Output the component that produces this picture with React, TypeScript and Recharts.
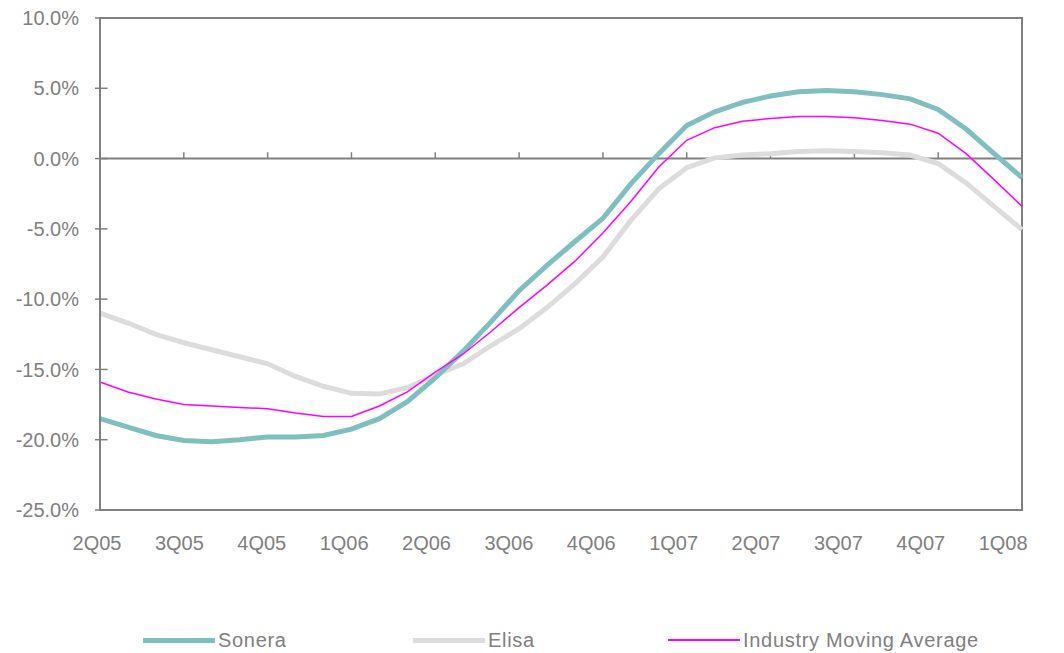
import React from "react";
import {
  LineChart,
  Line,
  XAxis,
  YAxis,
  Legend,
  ReferenceLine,
  ReferenceArea,
} from "recharts";

// quarter labels on the x axis, one observation per month in between
const quarters = ["2Q05", "3Q05", "4Q05", "1Q06", "2Q06", "3Q06", "4Q06", "1Q07", "2Q07", "3Q07", "4Q07", "1Q08"];

const sonera = [
  -18.5, -19.1, -19.7, -20.05, -20.15, -20.0, -19.8, -19.8, -19.7, -19.25, -18.5, -17.3,
  -15.6, -13.7, -11.6, -9.4, -7.6, -5.9, -4.25, -1.8, 0.35, 2.35, 3.33, 4.0,
  4.45, 4.75, 4.85, 4.75, 4.55, 4.25, 3.5, 2.1, 0.35, -1.35,
];

const elisa = [
  -11.0, -11.7, -12.5, -13.1, -13.6, -14.1, -14.6, -15.5, -16.2, -16.7, -16.75, -16.3,
  -15.4, -14.6, -13.3, -12.1, -10.6, -8.9, -7.0, -4.4, -2.15, -0.65, 0.05, 0.25,
  0.35, 0.5, 0.55, 0.5, 0.42, 0.25, -0.35, -1.73, -3.4, -5.05,
];

const industry = [
  -15.9, -16.6, -17.1, -17.5, -17.6, -17.7, -17.8, -18.1, -18.35, -18.35, -17.6, -16.6,
  -15.2, -13.9, -12.3, -10.6, -9.0, -7.3, -5.3, -3.05, -0.6, 1.3, 2.2, 2.65,
  2.85, 3.0, 3.0, 2.9, 2.7, 2.45, 1.8, 0.35, -1.5, -3.4,
];

const yTicks = [-25, -20, -15, -10, -5, 0, 5, 10];

const AXIS = "#808080";
const TEXT = "#808080";

const rows = sonera.map((v, i) => ({
  t: i / 3,
  sonera: v,
  elisa: elisa[i],
  industry: industry[i],
}));

const xTicks = quarters.map((_, i) => i);

function QuarterTick(props: any) {
  const { x, y, payload, index } = props;
  return (
    <text x={x} y={y} dx={-3 - index * 1.44} dy={40} textAnchor="middle" fill={TEXT} fontSize={20}>
      {quarters[payload.value]}
    </text>
  );
}

const legendItems = [
  { label: "Sonera", color: "#7fbfbf", width: 5, left: 135 },
  { label: "Elisa", color: "#dcdcdc", width: 5, left: 405 },
  { label: "Industry Moving Average", color: "#ff00ff", width: 1.5, left: 660 },
];

function ChartLegend() {
  return (
    <div style={{ position: "relative", height: 33 }}>
      {legendItems.map((it) => (
        <div
          key={it.label}
          style={{
            position: "absolute",
            left: it.left,
            top: 8,
            height: 24,
            display: "flex",
            alignItems: "center",
            whiteSpace: "nowrap",
          }}
        >
          <span style={{ display: "inline-block", width: 72, height: it.width, background: it.color, marginRight: 3 }} />
          <span style={{ color: TEXT, fontSize: 20, letterSpacing: 0.7 }}>{it.label}</span>
        </div>
      ))}
    </div>
  );
}

export default function App() {
  return (
    <div style={{ fontFamily: "'Liberation Sans', Arial, sans-serif" }}>
      <LineChart width={1056} height={645} data={rows} margin={{ top: 10, right: 42, left: 0, bottom: 0 }}>
        <XAxis
          dataKey="t"
          type="number"
          domain={[0, 11]}
          ticks={xTicks}
          axisLine={false}
          tickLine={false}
          tickSize={0}
          tickMargin={0}
          height={110}
          tick={<QuarterTick />}
          interval={0}
        />
        <YAxis
          type="number"
          domain={[-25, 10]}
          ticks={yTicks}
          width={92}
          axisLine={{ stroke: AXIS, strokeWidth: 2 }}
          tickLine={{ stroke: AXIS, strokeWidth: 1.5 }}
          tickSize={5}
          tickMargin={16}
          tick={{ fill: TEXT, fontSize: 20 }}
          tickFormatter={(v: number) => `${v.toFixed(1)}%`}
          interval={0}
        />
        <ReferenceArea x1={0} x2={11} y1={-25} y2={10} fill="none" stroke={AXIS} strokeWidth={2} ifOverflow="visible" />
        <ReferenceLine y={0} stroke={AXIS} strokeWidth={2} />
        {xTicks.slice(1, -1).map((q) => (
          <ReferenceLine
            key={`xq${q}`}
            segment={[{ x: q, y: 0 }, { x: q, y: 0.45 }]}
            stroke={AXIS}
            strokeWidth={1.5}
          />
        ))}
        {yTicks.slice(1, -1).map((v) => (
          <ReferenceLine
            key={`yt${v}`}
            segment={[{ x: 0, y: v }, { x: 0.09, y: v }]}
            stroke={AXIS}
            strokeWidth={1.5}
          />
        ))}
        <Legend verticalAlign="bottom" content={<ChartLegend />} />
        <Line type="linear" dataKey="elisa" stroke="#dcdcdc" strokeWidth={5} dot={false} isAnimationActive={false} />
        <Line type="linear" dataKey="sonera" stroke="#7fbfbf" strokeWidth={5} dot={false} isAnimationActive={false} />
        <Line type="linear" dataKey="industry" stroke="#ff00ff" strokeWidth={1.5} dot={false} isAnimationActive={false} />
      </LineChart>
    </div>
  );
}
